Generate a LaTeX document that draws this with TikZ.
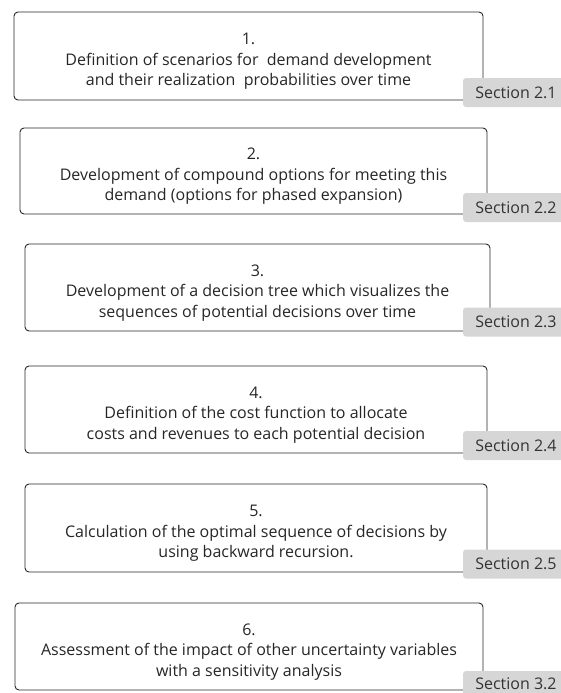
\documentclass[tikz,border=0pt]{standalone}
\usepackage{fontspec}
\setmainfont{Open Sans}
\usepackage{xcolor}
\definecolor{tabgray}{RGB}{214,214,214}
\definecolor{linegray}{RGB}{40,40,40}
\usetikzlibrary{positioning}

\newcommand{\toppad}{\rule{0pt}{22pt}}

\tikzset{
  taskbox/.style={draw=linegray, line width=0.9pt, rounded corners=4pt, align=center,
    font=\fontsize{16}{20.5}\selectfont, text=black!85},
  sectab/.style={fill=tabgray, rounded corners=3pt, minimum width=106pt, minimum height=29pt,
    inner sep=0pt, font=\fontsize{16}{18}\selectfont, text=black!80}
}

\begin{document}
\begin{tikzpicture}[x=1pt, y=-1pt]
  \useasboundingbox (0,0) rectangle (561,693);
  % Steps
  \node[taskbox, minimum width=469pt, minimum height=88pt] (task1) at (248.5, 56)
    {\toppad 1.\\Definition of scenarios for\ \ demand development\\and their realization\ \ probabilities over time};
  \node[taskbox, minimum width=467pt, minimum height=86pt] (task2) at (253.5, 171)
    {\toppad 2.\\Development of compound options for meeting this\\demand (options for phased expansion)};
  \node[taskbox, minimum width=465pt, minimum height=87pt] (task3) at (257.5, 287.5)
    {\toppad 3.\\Development of a decision tree which visualizes the\\sequences of potential decisions over time};
  \node[taskbox, minimum width=462pt, minimum height=87pt] (task4) at (256, 409.5)
    {\toppad 4.\\Definition of the cost function to allocate\\costs and revenues to each potential decision};
  \node[taskbox, minimum width=462pt, minimum height=88pt] (task5) at (256, 528)
    {\toppad 5.\\Calculation of the optimal sequence of decisions by\\using backward recursion.};
  \node[taskbox, minimum width=468pt, minimum height=87pt] (task6) at (249, 646.5)
    {\toppad 6.\\Assessment of the impact of other uncertainty variables\\with a sensitivity analysis};
  % Section tabs
  \node[sectab] (sec1) at (516, 92.5) {Section 2.1};
  \node[sectab] (sec2) at (516, 207.5) {Section 2.2};
  \node[sectab] (sec3) at (516, 322) {Section 2.3};
  \node[sectab] (sec4) at (516, 445.5) {Section 2.4};
  \node[sectab] (sec5) at (516, 564) {Section 2.5};
  \node[sectab, minimum height=25pt] (sec6) at (516, 683.5) {Section 3.2};
\end{tikzpicture}
\end{document}
